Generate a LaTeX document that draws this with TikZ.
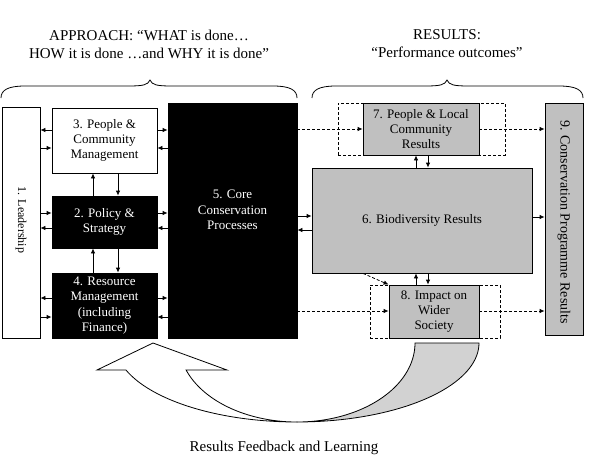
\documentclass[tikz,border=0pt]{standalone}
\usepackage{fontspec}
\setmainfont{Liberation Serif}
\usetikzlibrary{arrows.meta}
\definecolor{boxgray}{RGB}{192,192,192}
\definecolor{arrgray}{RGB}{210,210,210}
\newcommand{\bxfont}{\fontsize{13}{15.3}\selectfont}
\newcommand{\hdfont}{\fontsize{15}{18}\selectfont}
\begin{document}
\begin{tikzpicture}[x=1pt,y=-1pt,
  base/.style={draw=black, line width=0.8pt, inner sep=0pt, align=center, font=\bxfont},
  wbox/.style={base, fill=white},
  kbox/.style={base, fill=black, text=white},
  gbox/.style={base, fill=boxgray},
  dbox/.style={draw=black, line width=0.8pt, dash pattern=on 3pt off 2pt, inner sep=0pt},
  arr/.style={-{Latex[length=5pt,width=4.5pt]}, line width=0.8pt},
  darr/.style={arr, dash pattern=on 3pt off 2pt},
  brc/.style={line width=0.8pt},
  hd/.style={align=center, font=\hdfont, inner sep=0pt}]
\useasboundingbox (0,0) rectangle (597,467);

% headers
\node[hd] (h1) at (149,44) {APPROACH: “WHAT is done…\\HOW it is done …and WHY it is done”};
\node[hd] (h2) at (447,44) {RESULTS:\\“Performance outcomes”};

% braces
\draw[brc] (1,98) .. controls (1,90) and (8,86) .. (25,86) -- (128,86)
  .. controls (143,86) and (148,85) .. (150,80)
  .. controls (152,85) and (157,86) .. (172,86) -- (273,86)
  .. controls (290,86) and (297,90) .. (297,98);
\draw[brc] (312,98) .. controls (312,90) and (319,86) .. (336,86) -- (425,86)
  .. controls (440,86) and (445,85) .. (447,80)
  .. controls (449,85) and (454,86) .. (469,86) -- (559,86)
  .. controls (576,86) and (583,90) .. (583,98);

% left part
\node[wbox, minimum width=38pt, minimum height=231pt] (lead) at (21,222.5) {};
\node[font=\fontsize{12}{14}\selectfont, rotate=-90, inner sep=0pt] (leadt) at (21,220) {1. Leadership};
\node[wbox, minimum width=105pt, minimum height=65pt] (b3) at (104.5,140.5) {3. People \&\\Community\\Management};
\node[kbox, minimum width=105pt, minimum height=52pt] (b2) at (104.5,222) {2. Policy \&\\Strategy};
\node[kbox, minimum width=105pt, minimum height=65pt] (b4) at (104.5,305.5) {4. Resource\\Management\\(including\\Finance)};
\node[kbox, minimum width=129pt, minimum height=235pt] (b5) at (232.5,220.5) {};
\node[font=\bxfont, text=white, align=center, inner sep=0pt] (b5t) at (232.5,210) {5. Core\\Conservation\\Processes};

% right part
\node[dbox, minimum width=167pt, minimum height=52pt] (d7) at (421.5,129) {};
\node[gbox, minimum width=116pt, minimum height=52pt] (b7) at (421,129) {7. People \& Local\\Community\\Results};
\node[gbox, minimum width=220pt, minimum height=105pt] (b6) at (422,220.5) {6. Biodiversity Results};
\node[dbox, minimum width=130pt, minimum height=53pt] (d8) at (435,311.5) {};
\node[gbox, minimum width=90pt, minimum height=53pt] (b8) at (434,311.5) {8. Impact on\\Wider\\Society};
\node[gbox, minimum width=38pt, minimum height=232pt] (b9) at (564,219) {};
\node[font=\fontsize{14}{16}\selectfont, rotate=-90, inner sep=0pt] (b9t) at (564,222) {9. Conservation Programme Results};

% leadership <-> boxes
\draw[arr] (b3.west |- 0,130) -- (lead.east |- 0,130);
\draw[arr] (lead.east |- 0,148) -- (b3.west |- 0,148);
\draw[arr] (lead.east |- 0,213) -- (b2.west |- 0,213);
\draw[arr] (b2.west |- 0,228) -- (lead.east |- 0,228);
\draw[arr] (b4.west |- 0,298) -- (lead.east |- 0,298);
\draw[arr] (lead.east |- 0,317) -- (b4.west |- 0,317);

% boxes <-> core
\draw[arr] (b3.east |- 0,130) -- (b5.west |- 0,130);
\draw[arr] (b5.west |- 0,148) -- (b3.east |- 0,148);
\draw[arr] (b2.east |- 0,213) -- (b5.west |- 0,213);
\draw[arr] (b5.west |- 0,228) -- (b2.east |- 0,228);
\draw[arr] (b4.east |- 0,298) -- (b5.west |- 0,298);
\draw[arr] (b5.west |- 0,317) -- (b4.east |- 0,317);

% verticals
\draw[arr] (b2.north -| 93,0) -- (b3.south -| 93,0);
\draw[arr] (b3.south -| 118,0) -- (b2.north -| 118,0);
\draw[arr] (b4.north -| 93,0) -- (b2.south -| 93,0);
\draw[arr] (b2.south -| 118,0) -- (b4.north -| 118,0);

% core <-> biodiversity
\draw[arr] (b5.east |- 0,216) -- (b6.west |- 0,216);
\draw[arr] (b6.west |- 0,230) -- (b5.east |- 0,230);
\draw[arr] (b6.east |- 0,217) -- (b9.west |- 0,217);

% dashed
\draw[darr] (b5.east |- 0,129) -- (b7.west |- 0,129);
\draw[darr] (b7.east |- 0,129) -- (b9.west |- 0,129);
\draw[darr] (b5.east |- 0,311) -- (b8.west |- 0,311);
\draw[darr] (b8.east |- 0,311) -- (b9.west |- 0,311);
\draw[darr] (b6.south -| 363,0) -- (b8.north west);

% 6 <-> 7, 6 <-> 8
\draw[arr] (b6.north -| 416,0) -- (b7.south -| 416,0);
\draw[arr] (b7.south -| 428,0) -- (b6.north -| 428,0);
\draw[arr] (b8.north -| 416,0) -- (b6.south -| 416,0);
\draw[arr] (b6.south -| 428,0) -- (b8.north -| 428,0);

% feedback arrow
\draw[line width=0.8pt, fill=arrgray]
  plot[domain=0:90, samples=40, variable=\t] ({297+182*cos(\t)},{343+79*sin(\t)})
  -- plot[domain=90:0, samples=40, variable=\t] ({297+118*cos(\t)},{343+79*sin(\t)})
  -- cycle;
\draw[line width=0.8pt, fill=white]
  (97,370) -- (153,343) -- (227,370) -- ({297+118*cos(160)},{343+79*sin(160)})
  -- plot[domain=160:90, samples=40, variable=\t] ({297+118*cos(\t)},{343+79*sin(\t)})
  -- plot[domain=90:160, samples=40, variable=\t] ({297+182*cos(\t)},{343+79*sin(\t)})
  -- cycle;
\node[hd] (fb) at (284,448) {Results Feedback and Learning};
\end{tikzpicture}
\end{document}
